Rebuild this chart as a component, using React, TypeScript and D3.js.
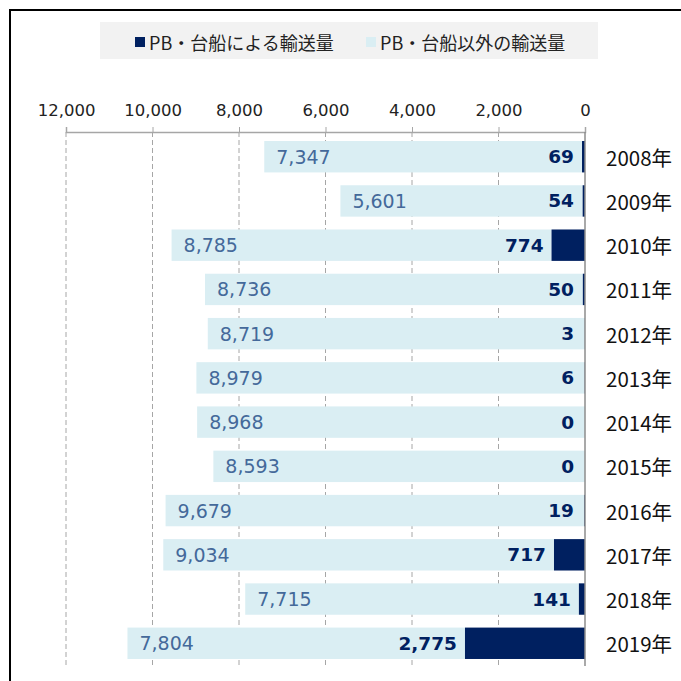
import { useEffect, useRef } from 'react';
import * as d3 from 'd3';

const years = ['2008年', '2009年', '2010年', '2011年', '2012年', '2013年', '2014年', '2015年', '2016年', '2017年', '2018年', '2019年'];
const pbValues = [69, 54, 774, 50, 3, 6, 0, 0, 19, 717, 141, 2775];
const otherValues = [7347, 5601, 8785, 8736, 8719, 8979, 8968, 8593, 9679, 9034, 7715, 7804];
const xTicks = [0, 2000, 4000, 6000, 8000, 10000, 12000];
const seriesNames = ['PB・台船による輸送量', 'PB・台船以外の輸送量'];

const DARK = '#002060';
const LIGHT = '#DAEEF3';

export default function App() {
  const svgRef = useRef<SVGSVGElement>(null);
  const width = 681;
  const height = 681;

  useEffect(() => {
    if (!svgRef.current) return;
    const svg = d3.select(svgRef.current);
    svg.selectAll('*').remove();

    const cjk = '"Noto Sans CJK JP", "Noto Sans", sans-serif';
    const num = '"DejaVu Sans", Verdana, sans-serif';

    // frame
    svg.append('path')
      .attr('d', `M10,${height} L10,10 L${width},10`)
      .attr('fill', 'none')
      .attr('stroke', '#000')
      .attr('stroke-width', 2);

    // legend
    const legend = svg.append('g');
    legend.append('rect')
      .attr('x', 100).attr('y', 22).attr('width', 498).attr('height', 37)
      .attr('fill', '#F2F2F2');
    const legendItems = [
      { x: 135, color: DARK, name: seriesNames[0] },
      { x: 366, color: LIGHT, name: seriesNames[1] },
    ];
    legendItems.forEach(it => {
      legend.append('rect')
        .attr('x', it.x).attr('y', 37).attr('width', 10).attr('height', 10)
        .attr('fill', it.color);
      legend.append('text')
        .attr('x', it.x + 14).attr('y', 42)
        .attr('dominant-baseline', 'central')
        .style('font-family', cjk)
        .style('font-size', '18px')
        .attr('fill', '#222')
        .text(it.name);
    });

    const x = d3.scaleLinear().domain([0, 12000]).range([585, 66]);
    const y = d3.scaleBand().domain(years).range([134.6, 665.4]).paddingInner(0.29).paddingOuter(0.145);

    // gridlines
    svg.append('g')
      .selectAll('line')
      .data(xTicks.filter(t => t > 0))
      .enter()
      .append('line')
      .attr('x1', d => x(d)).attr('x2', d => x(d))
      .attr('y1', 132).attr('y2', 666)
      .attr('stroke', '#A6A6A6')
      .attr('stroke-width', 1)
      .attr('stroke-dasharray', '5,3');

    // top axis
    const axis = d3.axisTop(x).tickValues(xTicks).tickSize(5).tickPadding(8)
      .tickFormat(d => d3.format(',')(d as number));
    const ag = svg.append('g').attr('transform', 'translate(0,132)').call(axis);
    ag.attr('font-size', null).attr('font-family', null);
    ag.selectAll('.domain').attr('stroke', '#A6A6A6').attr('stroke-width', 1.5);
    ag.selectAll('.tick line').attr('stroke', '#A6A6A6');
    ag.selectAll('.tick text')
      .style('font-family', num)
      .style('font-size', '16.5px')
      .attr('fill', '#222')
      .attr('dy', '-3');

    const rows = years.map((yr, i) => ({ yr, pb: pbValues[i], other: otherValues[i] }));
    const g = svg.append('g');

    // light bars
    g.selectAll('.other')
      .data(rows)
      .enter()
      .append('rect')
      .attr('x', d => x(d.pb + d.other))
      .attr('y', d => y(d.yr)!)
      .attr('width', d => x(d.pb) - x(d.pb + d.other))
      .attr('height', y.bandwidth())
      .attr('fill', LIGHT);

    // dark bars
    g.selectAll('.pb')
      .data(rows)
      .enter()
      .append('rect')
      .attr('x', d => x(d.pb))
      .attr('y', d => y(d.yr)!)
      .attr('width', d => x(0) - x(d.pb))
      .attr('height', y.bandwidth())
      .attr('fill', DARK);

    // zero axis line
    svg.append('line')
      .attr('x1', x(0)).attr('x2', x(0))
      .attr('y1', 132).attr('y2', 666)
      .attr('stroke', '#8C8C8C')
      .attr('stroke-width', 1.5);

    // other labels
    g.selectAll('.lblOther')
      .data(rows)
      .enter()
      .append('text')
      .attr('x', d => x(d.pb + d.other) + 12)
      .attr('y', d => y(d.yr)! + y.bandwidth() / 2)
      .attr('dominant-baseline', 'central')
      .style('font-family', num)
      .style('font-size', '19px')
      .attr('fill', '#44699A')
      .text(d => d3.format(',')(d.other));

    // pb labels
    g.selectAll('.lblPb')
      .data(rows)
      .enter()
      .append('text')
      .attr('x', d => Math.min(x(d.pb), x(0) - 3) - 8)
      .attr('y', d => y(d.yr)! + y.bandwidth() / 2)
      .attr('dominant-baseline', 'central')
      .attr('text-anchor', 'end')
      .style('font-family', num)
      .style('font-size', '18.5px')
      .style('font-weight', 'bold')
      .attr('fill', DARK)
      .text(d => d3.format(',')(d.pb));

    // year labels
    g.selectAll('.yr')
      .data(rows)
      .enter()
      .append('text')
      .attr('x', 606)
      .attr('y', d => y(d.yr)! + y.bandwidth() / 2)
      .attr('dominant-baseline', 'central')
      .style('font-family', cjk)
      .style('font-size', '20.5px')
      .attr('fill', '#111')
      .text(d => d.yr);
  }, []);

  return (
    <svg
      ref={svgRef}
      width={width}
      height={height}
      style={{ position: 'absolute', left: 0, top: 0, background: '#fff' }}
    />
  );
}
